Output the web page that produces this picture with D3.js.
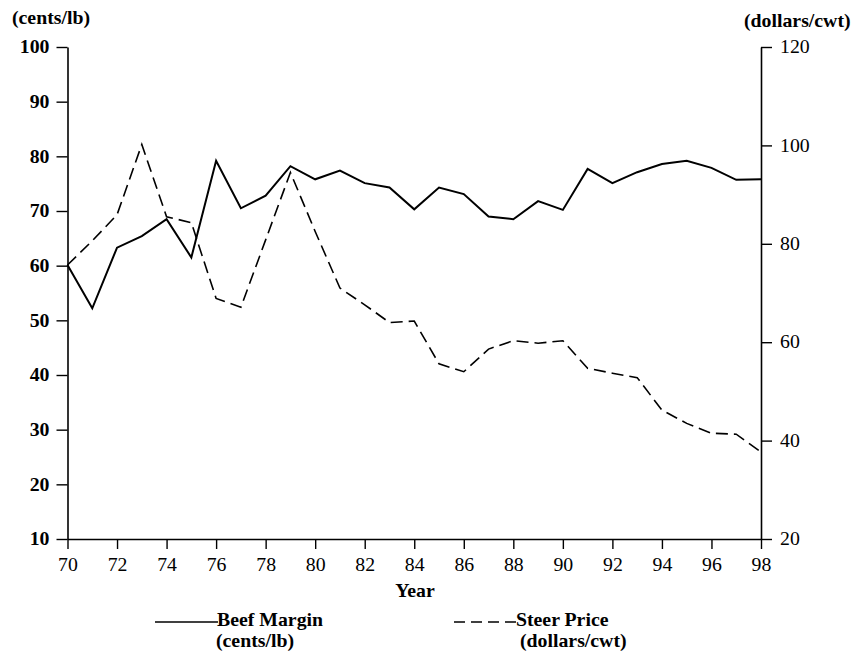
<!DOCTYPE html>
<html>
<head>
<meta charset="utf-8">
<script src="https://cdn.jsdelivr.net/npm/d3@7"></script>
<style>
  html, body { margin: 0; padding: 0; background: #fff; }
  svg text { font-family: "Liberation Serif", "Times New Roman", serif; fill: #000; }
</style>
</head>
<body>
<svg id="chart" width="856" height="656"></svg>
<script>
// ---- data ----
const years = [70,71,72,73,74,75,76,77,78,79,80,81,82,83,84,85,86,87,88,89,90,91,92,93,94,95,96,97,98];
const beefMargin = [60.1,52.2,63.3,65.4,68.5,61.5,79.2,70.5,72.8,78.2,75.8,77.4,75.1,74.3,70.3,74.3,73.1,69.0,68.5,71.8,70.2,77.7,75.1,77.1,78.6,79.2,77.9,75.7,75.8];
const steerPrice = [75.7,80.6,85.9,100.2,85.5,84.3,68.9,67.1,80.8,94.5,82.5,71.0,67.6,64.0,64.3,55.6,54.0,58.6,60.3,59.8,60.3,54.7,53.7,52.8,46.2,43.5,41.5,41.3,37.7];
const xTicks = [70,72,74,76,78,80,82,84,86,88,90,92,94,96,98];
const leftTicks = [10,20,30,40,50,60,70,80,90,100];
const rightTicks = [20,40,60,80,100,120];

// ---- layout ----
const svg = d3.select("#chart");
const X0 = 67.5, X1 = 761, YT = 47, YB = 539;
const FS = 18, SX = 1.1;   // font size and horizontal stretch of the scanned type
const x = d3.scaleLinear().domain([70,98]).range([X0,X1]);
const yL = d3.scaleLinear().domain([10,100]).range([YB,YT]);
const yR = d3.scaleLinear().domain([20,120]).range([YB,YT]);

function stretch(sel) {
  sel.each(function(){
    const t = d3.select(this);
    const xv = +(t.attr("x") || 0);
    t.attr("x", xv / SX).attr("transform", `scale(${SX},1)`);
  });
  return sel;
}

function styleAxis(g, weight) {
  g.select(".domain").attr("stroke","#000").attr("stroke-width",1.6);
  g.selectAll(".tick line").attr("stroke","#000").attr("stroke-width",1.4);
  const t = g.selectAll(".tick text").attr("font-family","Liberation Serif, serif")
    .attr("font-size",FS).attr("font-weight",weight).attr("fill","#000");
  stretch(t);
}

const gL = svg.append("g").attr("transform",`translate(${X0},0)`)
  .call(d3.axisLeft(yL).tickValues(leftTicks).tickSize(11).tickPadding(7).tickSizeOuter(0));
styleAxis(gL, "bold");

const gR = svg.append("g").attr("transform",`translate(${X1},0)`)
  .call(d3.axisRight(yR).tickValues(rightTicks).tickSize(11).tickPadding(8).tickSizeOuter(0));
styleAxis(gR, "normal");

const gX = svg.append("g").attr("transform",`translate(0,${YB})`)
  .call(d3.axisBottom(x).tickValues(xTicks).tickSize(10).tickPadding(9).tickSizeOuter(0));
styleAxis(gX, "normal");

// ---- lines ----
const lineL = d3.line().x((d,i)=>x(years[i])).y(d=>yL(d));
const lineR = d3.line().x((d,i)=>x(years[i])).y(d=>yR(d));

svg.append("path").datum(beefMargin).attr("d",lineL)
  .attr("fill","none").attr("stroke","#000").attr("stroke-width",2).attr("stroke-linejoin","miter");
svg.append("path").datum(steerPrice).attr("d",lineR)
  .attr("fill","none").attr("stroke","#000").attr("stroke-width",1.6).attr("stroke-dasharray","12,6");

// ---- titles ----
function label(xp, yp, txt, anchor) {
  const t = svg.append("text").attr("x",xp).attr("y",yp).attr("font-size",FS)
    .attr("font-weight","bold").attr("text-anchor",anchor || "start").text(txt);
  stretch(t);
  return t;
}
label(12, 24, "(cents/lb)");
label(744, 27, "(dollars/cwt)");
label(415, 597, "Year", "middle");

// ---- legend ----
const leg = [
  {name:"Beef Margin", unit:"(cents/lb)", x0:155, x1:218, tx:217, ux:216, dash:null},
  {name:"Steer Price", unit:"(dollars/cwt)", x0:454, x1:517, tx:516, ux:520, dash:"11,6"}
];
leg.forEach(l=>{
  svg.append("line").attr("x1",l.x0).attr("x2",l.x1).attr("y1",622).attr("y2",622)
    .attr("stroke","#000").attr("stroke-width",1.6).attr("stroke-dasharray",l.dash);
  label(l.tx, 626, l.name);
  label(l.ux, 647, l.unit);
});
</script>
</body>
</html>
